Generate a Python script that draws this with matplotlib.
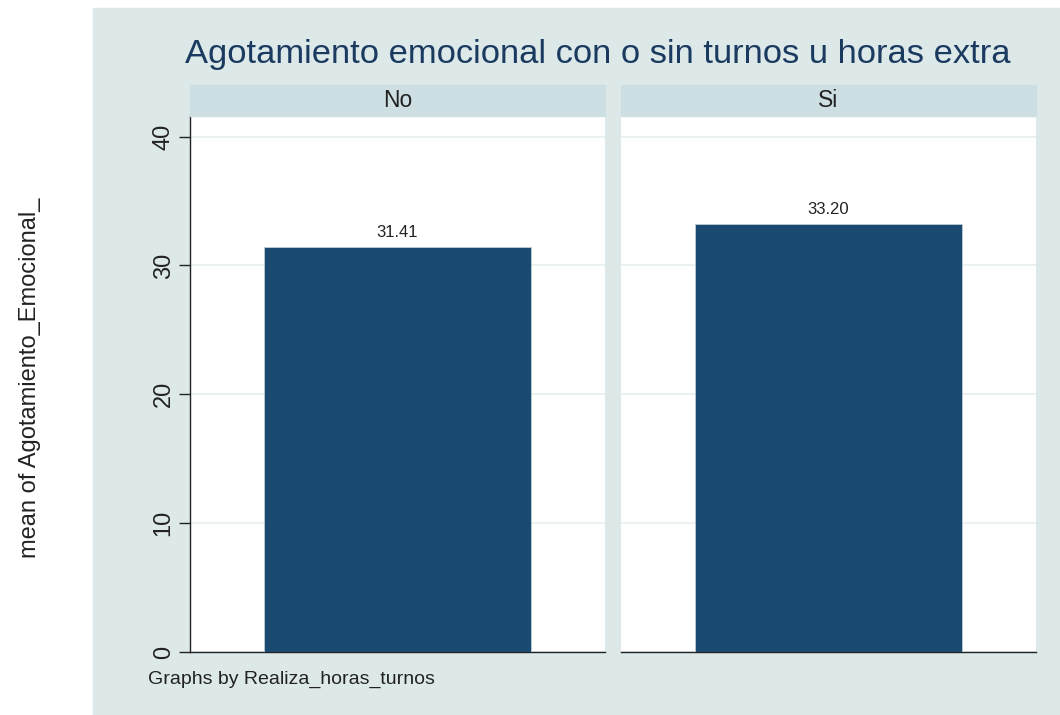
import matplotlib.pyplot as plt
from matplotlib.patches import Rectangle

# datos
grupos = ["No", "Si"]
medias = [31.41, 33.20]
etiquetas = ["31.41", "33.20"]
yticks = [0, 10, 20, 30, 40]

fondo = "#dde9e9"
franja = "#cddfe3"
barra = "#1a4a6f"

plt.rcParams['font.family'] = ['Liberation Sans', 'DejaVu Sans']

fig = plt.figure(figsize=(10.6, 7.15), dpi=100)
fig.patch.set_facecolor("white")
fig.patches.append(Rectangle((93/1060, 0), 1 - 93/1060, 707/715,
                             transform=fig.transFigure, color=fondo, zorder=-10))

bottom = 1 - 652/715
height = (652 - 116)/715
lefts = [190/1060, 621/1060]
width = 415/1060

for k, (g, m, lab) in enumerate(zip(grupos, medias, etiquetas)):
    ax = fig.add_axes([lefts[k], bottom, width, height])
    ax.set_facecolor("white")
    ax.bar([0], [m], width=0.645, color=barra, edgecolor="#c8d4dc", linewidth=0.5, zorder=3)
    ax.text(0, m + 0.6, lab, ha="center", va="bottom", fontsize=12, color="#222222")
    ax.set_xlim(-0.5, 0.5)
    ax.set_ylim(0, 41.6)
    ax.set_yticks(yticks)
    ax.yaxis.grid(True, color="#e6efef", linewidth=1.2, zorder=0)
    ax.set_xticks([])
    for s in ["top", "right"]:
        ax.spines[s].set_visible(False)
    ax.spines["bottom"].set_color("#222222")
    ax.spines["bottom"].set_linewidth(1.0)
    if k == 0:
        ax.spines["left"].set_color("#222222")
        ax.spines["left"].set_linewidth(1.0)
        ax.tick_params(axis="y", length=8, width=1, colors="#222222", labelsize=17, pad=3)
        for t in ax.get_yticklabels():
            t.set_rotation(90)
            t.set_va("center")
    else:
        ax.spines["left"].set_visible(False)
        ax.tick_params(axis="y", length=0, labelleft=False)
    # franja del panel
    fig.patches.append(Rectangle((lefts[k], 1 - 116/715), width, 31/715,
                                 transform=fig.transFigure, color=franja, zorder=1))
    fig.text(lefts[k] + width/2, 1 - 100.5/715, g, ha="center", va="center",
             fontsize=16.5, color="#222222")

fig.text(598/1060, 1 - 55/715, "Agotamiento emocional con o sin turnos u horas extra",
         ha="center", va="center", fontsize=24.8, color="#1a3a60")
fig.text(30/1060, 1 - 378/715, "mean of Agotamiento_Emocional_", rotation=90,
         ha="center", va="center", fontsize=17, color="#222222")
fig.text(148/1060, 1 - 679/715, "Graphs by Realiza_horas_turnos",
         ha="left", va="center", fontsize=14, color="#222222")

fig.savefig("out.png", dpi=100)
